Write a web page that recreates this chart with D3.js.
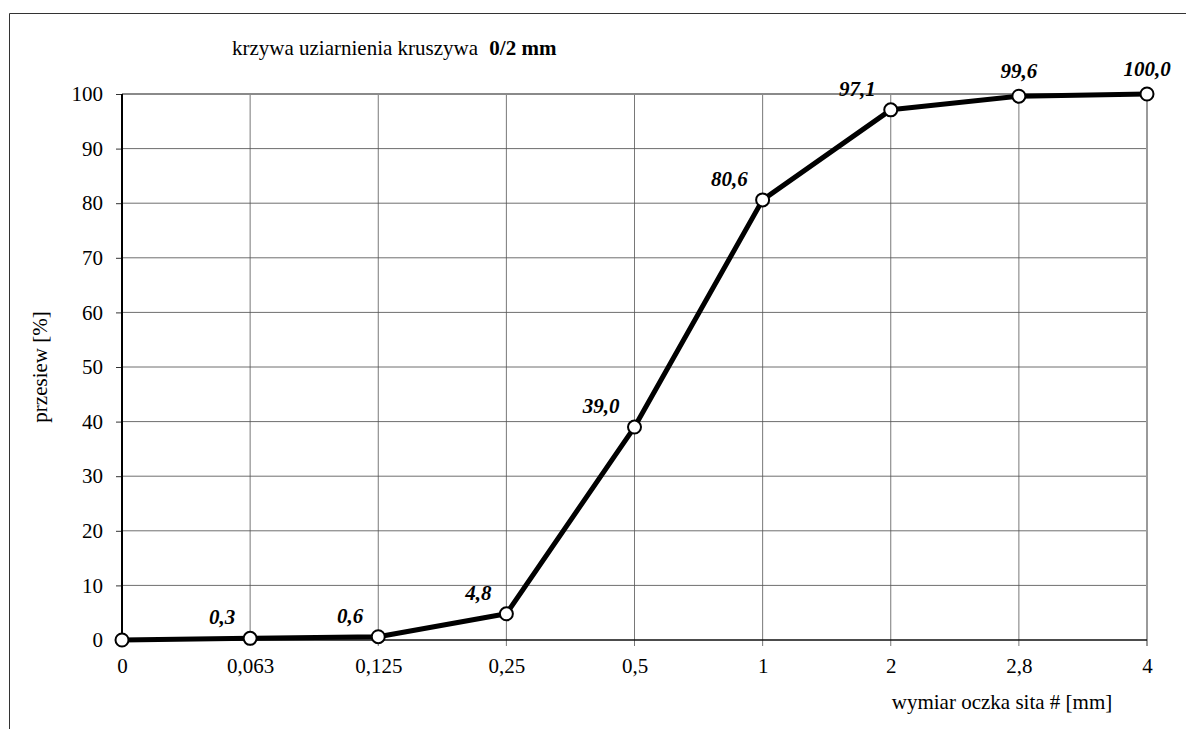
<!DOCTYPE html>
<html>
<head>
<meta charset="utf-8">
<script src="https://cdn.jsdelivr.net/npm/d3@7"></script>
<style>
  body { margin: 0; background: #fff; }
  svg { display: block; font-family: "Liberation Serif", "Times New Roman", serif; }
</style>
</head>
<body>
<script>
// sieve sizes (category labels) and passing percentages
const sieves = ["0", "0,063", "0,125", "0,25", "0,5", "1", "2", "2,8", "4"];
const passing = [0, 0.3, 0.6, 4.8, 39.0, 80.6, 97.1, 99.6, 100.0];
const yTicks = [0, 10, 20, 30, 40, 50, 60, 70, 80, 90, 100];

const width = 1186;
const height = 729;
const margin = { top: 94, right: 39, bottom: 89, left: 122 };

const svg = d3.select("body").append("svg")
    .attr("width", width)
    .attr("height", height);

// outer chart frame (only top and left visible in the crop)
svg.append("path")
    .attr("d", `M9.5,${height} V13.5 H${width}`)
    .attr("fill", "none")
    .attr("stroke", "#333")
    .attr("stroke-width", 1);

const x = d3.scalePoint()
    .domain(sieves)
    .range([margin.left, width - margin.right]);

const y = d3.scaleLinear()
    .domain([0, 100])
    .range([height - margin.bottom, margin.top]);

const data = sieves.map((s, i) => ({ sieve: s, value: passing[i] }));

// horizontal grid
svg.append("g")
  .selectAll("line")
  .data(yTicks.filter(d => d > 0 && d < 100))
  .join("line")
    .attr("x1", margin.left)
    .attr("x2", width - margin.right)
    .attr("y1", d => y(d))
    .attr("y2", d => y(d))
    .attr("stroke", "#6e6e6e")
    .attr("stroke-width", 1);

// vertical grid
svg.append("g")
  .selectAll("line")
  .data(sieves.slice(1, -1))
  .join("line")
    .attr("x1", d => x(d))
    .attr("x2", d => x(d))
    .attr("y1", y(100))
    .attr("y2", y(0) + 6)
    .attr("stroke", "#555")
    .attr("stroke-width", 0.8);

// top and right borders of plot area
svg.append("line")
    .attr("x1", margin.left).attr("x2", width - margin.right)
    .attr("y1", y(100)).attr("y2", y(100))
    .attr("stroke", "#8a8a8a").attr("stroke-width", 2);
svg.append("line")
    .attr("x1", width - margin.right).attr("x2", width - margin.right)
    .attr("y1", y(100)).attr("y2", y(0) + 6)
    .attr("stroke", "#9a9a9a").attr("stroke-width", 2);

// y axis
const yAxis = svg.append("g")
    .attr("transform", `translate(${margin.left},0)`)
    .call(d3.axisLeft(y).tickValues(yTicks).tickSize(6).tickPadding(13).tickFormat(d3.format("d")));
yAxis.select(".domain").remove();
yAxis.selectAll(".tick line").attr("stroke", "#333");
yAxis.selectAll("text")
    .attr("font-size", 21)
    .attr("fill", "#000")
    .attr("font-family", "Liberation Serif");
svg.append("line")
    .attr("x1", margin.left).attr("x2", margin.left)
    .attr("y1", y(100)).attr("y2", y(0))
    .attr("stroke", "#000").attr("stroke-width", 2);

// x axis
const xAxis = svg.append("g")
    .attr("transform", `translate(0,${y(0)})`)
    .call(d3.axisBottom(x).tickSize(0).tickPadding(18));
xAxis.select(".domain").remove();
xAxis.selectAll("text")
    .attr("font-size", 21)
    .attr("fill", "#000")
    .attr("font-family", "Liberation Serif");
svg.append("line")
    .attr("x1", margin.left).attr("x2", width - margin.right)
    .attr("y1", y(0)).attr("y2", y(0))
    .attr("stroke", "#111").attr("stroke-width", 1.5);

// curve
svg.append("path")
    .datum(data)
    .attr("fill", "none")
    .attr("stroke", "#000")
    .attr("stroke-width", 5)
    .attr("stroke-linejoin", "round")
    .attr("d", d3.line().x(d => x(d.sieve)).y(d => y(d.value)));

svg.append("g")
  .selectAll("circle")
  .data(data)
  .join("circle")
    .attr("cx", d => x(d.sieve))
    .attr("cy", d => y(d.value))
    .attr("r", 6.5)
    .attr("fill", "#fff")
    .attr("stroke", "#000")
    .attr("stroke-width", 2);

// data labels (first point has none)
const fmt = v => v.toFixed(1).replace(".", ",");
svg.append("g")
  .selectAll("text")
  .data(data.slice(1))
  .join("text")
    .attr("x", d => d.value > 99 ? x(d.sieve) : x(d.sieve) - 15)
    .attr("y", d => d.value > 99 ? y(d.value) - 18 : y(d.value) - 14)
    .attr("text-anchor", d => d.value > 99 ? "middle" : "end")
    .attr("font-size", 21)
    .attr("font-weight", "bold")
    .attr("font-style", "italic")
    .text(d => fmt(d.value));

// titles
const title = svg.append("text")
    .attr("x", 232)
    .attr("y", 55)
    .attr("font-size", 21);
title.append("tspan").text("krzywa uziarnienia kruszywa ");
title.append("tspan").attr("dx", 6).attr("font-weight", "bold").text("0/2 mm");

svg.append("text")
    .attr("transform", `translate(47,${(y(0) + y(100)) / 2}) rotate(-90)`)
    .attr("text-anchor", "middle")
    .attr("font-size", 21)
    .text("przesiew [%]");

svg.append("text")
    .attr("x", 1002)
    .attr("y", 709)
    .attr("text-anchor", "middle")
    .attr("font-size", 21)
    .text("wymiar oczka sita # [mm]");
</script>
</body>
</html>
